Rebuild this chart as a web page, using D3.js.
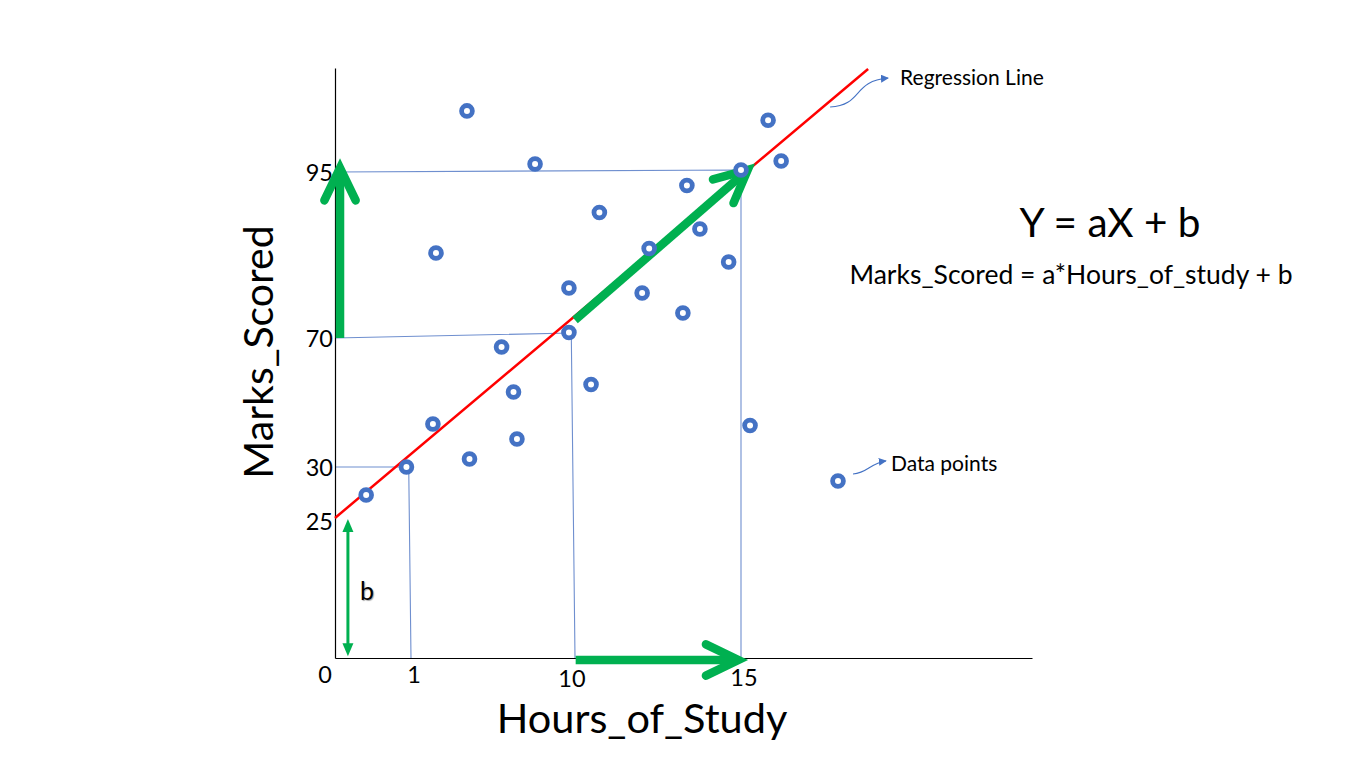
<!DOCTYPE html>
<html>
<head>
<meta charset="utf-8">
<script src="https://cdn.jsdelivr.net/npm/d3@7"></script>
<style>
  html, body { margin: 0; padding: 0; background: #ffffff; }
  svg { display: block; font-family: Lato, "Open Sans", sans-serif; }
</style>
</head>
<body>
<script>
// ---------------- data ----------------
const hoursOfStudy = [4.09, 7.85, 15.81, 15.0, 16.2, 13.38, 10.76, 2.38, 12.25, 13.77, 14.63, 9.72,
                      12.04, 13.26, 9.72, 6.0, 10.51, 6.66, 2.21, 15.27, 6.85, 4.23, 0.94, 0.41, 17.9];
const marksScored  = [104.2, 96.2, 102.8, 95.3, 96.66, 92.97, 88.9, 82.8, 83.48, 86.42, 81.45, 77.53,
                      76.78, 73.77, 70.83, 67.2, 55.58, 53.26, 43.33, 42.87, 38.68, 32.48, 30.0, 27.25, 28.63];
const xTickValues = [0, 1, 10, 15];
const xTickLabels = ["0", "1", "10", "15"];
const yTickValues = [25, 30, 70, 95];
const yTickLabels = ["25", "30", "70", "95"];
// regression line end points (x, y)
const regressionX = [0, 18.8];
const regressionY = [25, 110.5];
// projection guide lines (x list, y list)
const guideXs = [[0, 15, 15], [0, 9.85, 10.03], [0, 0.97, 1]];
const guideYs = [[95, 95.3, 0], [70, 70.75, 0], [30, 30, 0]];
// green explanatory arrows: from (x1,y1) to (x2,y2)
const arrowX1 = [0.066, 10.03, 10.05];
const arrowY1 = [70, 72.7, -0.36];
const arrowX2 = [0.066, 15.2, 14.92];
const arrowY2 = [95.6, 95.3, -0.36];
// intercept "b" double arrow
const interceptX = 0.17;
const interceptY = [0.3, 24.8];

// ---------------- layout ----------------
const W = 1366, H = 768;
const svg = d3.select("body").append("svg").attr("width", W).attr("height", H);

// piecewise (schematic) scales, as in the illustration
const x = d3.scaleLinear().domain([0, 1, 10, 15, 23.7]).range([335, 411, 574, 741, 1032]);
const y = d3.scaleLinear().domain([0, 25, 30, 70, 95, 110.66]).range([658, 518, 467, 338, 172, 68]);

const BLUE = "#4472C4", GREEN = "#00B050", RED = "#FF0000";

// guide lines
const line = d3.line().x(d => x(d[0])).y(d => y(d[1]));
guideXs.forEach((xs, i) => {
  const pts = xs.map((v, j) => [v, guideYs[i][j]]);
  svg.append("path").attr("d", line(pts)).attr("fill", "none")
     .attr("stroke", "#6f8fcf").attr("stroke-width", 1.1);
});

// axes
const xAxis = d3.axisBottom(x).tickValues([]).tickSizeOuter(0);
const yAxis = d3.axisLeft(y).tickValues([]).tickSizeOuter(0);
svg.append("g").attr("transform", `translate(0,${y(0)})`).call(xAxis)
   .select(".domain").attr("stroke", "#000").attr("stroke-width", 1.2);
svg.append("g").attr("transform", `translate(${x(0)},0)`).call(yAxis)
   .select(".domain").attr("stroke", "#000").attr("stroke-width", 1.2);

// tick labels
const xLabelDy = [25, 25, 29, 28];
svg.append("g").selectAll("text").data(xTickValues).join("text")
  .attr("x", (d, i) => x(d) + (i === 0 ? -10 : (i === 2 ? -2 : 3)))
  .attr("y", (d, i) => y(0) + xLabelDy[i])
  .attr("text-anchor", "middle").attr("font-size", 23.5).attr("fill", "#000")
  .text((d, i) => xTickLabels[i]);
svg.append("g").selectAll("text").data(yTickValues).join("text")
  .attr("x", x(0) - 2)
  .attr("y", (d, i) => y(d) + (i === 0 ? 12 : 9))
  .attr("text-anchor", "end").attr("font-size", 23.5).attr("fill", "#000")
  .text((d, i) => yTickLabels[i]);

// regression line
svg.append("line")
  .attr("x1", x(regressionX[0])).attr("y1", y(regressionY[0]))
  .attr("x2", x(regressionX[1])).attr("y2", y(regressionY[1]))
  .attr("stroke", RED).attr("stroke-width", 2.5);

// green thick arrows (open chevron heads)
function chevron(x1, y1, x2, y2, len, ang) {
  const a = Math.atan2(y1 - y2, x1 - x2);
  const w1 = [x2 + len * Math.cos(a + ang), y2 + len * Math.sin(a + ang)];
  const w2 = [x2 + len * Math.cos(a - ang), y2 + len * Math.sin(a - ang)];
  return `M${w1[0]},${w1[1]}L${x2},${y2}L${w2[0]},${w2[1]}`;
}
arrowX1.forEach((v, i) => {
  const X1 = x(v), Y1 = y(arrowY1[i]), X2 = x(arrowX2[i]), Y2 = y(arrowY2[i]);
  const a = Math.atan2(Y2 - Y1, X2 - X1);
  svg.append("line").attr("x1", X1).attr("y1", Y1)
    .attr("x2", X2 - 6 * Math.cos(a)).attr("y2", Y2 - 6 * Math.sin(a))
    .attr("stroke", GREEN).attr("stroke-width", 8.5);
  svg.append("path").attr("d", chevron(X1, Y1, X2, Y2, 36, 0.45))
    .attr("fill", "none").attr("stroke", GREEN).attr("stroke-width", 8.5)
    .attr("stroke-linecap", "round").attr("stroke-linejoin", "miter");
});

// intercept double arrow
{
  const X = x(interceptX), Ya = y(interceptY[0]), Yb = y(interceptY[1]);
  svg.append("line").attr("x1", X).attr("x2", X).attr("y1", Ya - 10).attr("y2", Yb + 10)
    .attr("stroke", GREEN).attr("stroke-width", 3);
  svg.append("path").attr("d", `M${X},${Yb}L${X - 5.5},${Yb + 13}L${X + 5.5},${Yb + 13}Z`).attr("fill", GREEN);
  svg.append("path").attr("d", `M${X},${Ya}L${X - 5.5},${Ya - 13}L${X + 5.5},${Ya - 13}Z`).attr("fill", GREEN);
  svg.append("text").attr("x", X + 12).attr("y", y(12.5) + 12)
    .attr("font-size", 25).attr("fill", "#000")
    .style("text-shadow", "1px 1px 1px rgba(0,0,0,0.35)").text("b");
}

// data points
svg.append("g").selectAll("circle").data(hoursOfStudy).join("circle")
  .attr("cx", d => x(d)).attr("cy", (d, i) => y(marksScored[i]))
  .attr("r", 5.4).attr("fill", "#fff").attr("stroke", BLUE).attr("stroke-width", 4.8);

// annotation connectors
const defs = svg.append("defs");
defs.append("marker").attr("id", "tri").attr("viewBox", "0 0 10 10").attr("refX", 9).attr("refY", 5)
  .attr("markerWidth", 8).attr("markerHeight", 8).attr("markerUnits", "userSpaceOnUse").attr("orient", "auto")
  .append("path").attr("d", "M0,0L10,5L0,10Z").attr("fill", BLUE);

{
  const ex = x(regressionX[1]), ey = y(regressionY[1]);
  svg.append("path")
    .attr("d", `M${ex - 38},${ey + 38} C${ex - 5},${ey + 36} ${ex - 16},${ey + 12} ${ex + 20},${ey + 9}`)
    .attr("fill", "none").attr("stroke", BLUE).attr("stroke-width", 1.1).attr("marker-end", "url(#tri)");
  svg.append("text").attr("x", ex + 32).attr("y", ey + 16).attr("font-size", 21).attr("fill", "#000")
    .text("Regression Line");
}
{
  const last = hoursOfStudy.length - 1;
  const px = x(hoursOfStudy[last]), py = y(marksScored[last]);
  svg.append("path")
    .attr("d", `M${px + 15},${py - 7} C${px + 30},${py - 8} ${px + 32},${py - 18} ${px + 48},${py - 20}`)
    .attr("fill", "none").attr("stroke", BLUE).attr("stroke-width", 1.1).attr("marker-end", "url(#tri)");
  svg.append("text").attr("x", px + 53).attr("y", py - 10).attr("font-size", 21).attr("fill", "#000")
    .text("Data points");
}

// axis titles
svg.append("text").attr("x", 642).attr("y", 733).attr("text-anchor", "middle")
  .attr("font-size", 41.5).attr("fill", "#000").text("Hours_of_Study");
svg.append("text").attr("transform", "translate(273,352) rotate(-90)").attr("text-anchor", "middle")
  .attr("font-size", 41).attr("fill", "#000").text("Marks_Scored");

// equations
svg.append("text").attr("x", 1110).attr("y", 237).attr("text-anchor", "middle")
  .attr("font-size", 40.5).attr("fill", "#000").text("Y = aX + b");
svg.append("text").attr("x", 1071).attr("y", 284).attr("text-anchor", "middle")
  .attr("font-size", 26.5).attr("fill", "#000").text("Marks_Scored = a*Hours_of_study + b");
</script>
</body>
</html>
